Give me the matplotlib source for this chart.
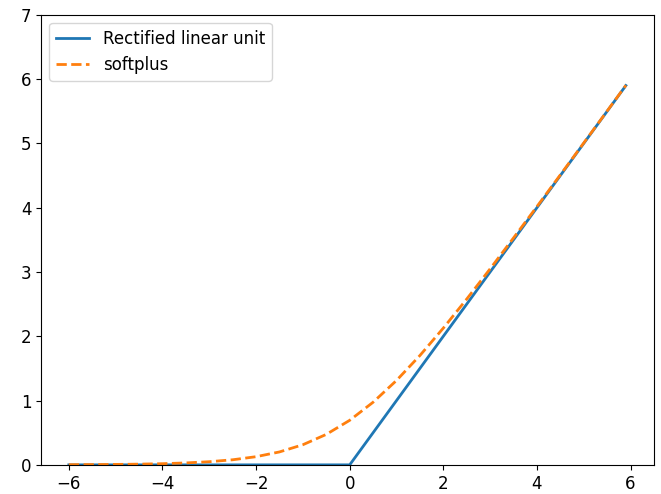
import matplotlib
matplotlib.use("Agg")
import matplotlib.pyplot as plt

relu_x = [-6.0, 0.0, 5.9]
relu_y = [0.0, 0.0, 5.9]

softplus_x = [-6.0, -5.5, -5.0, -4.5, -4.0, -3.5, -3.0, -2.5, -2.0, -1.5, -1.0, -0.5,
              0.0, 0.5, 1.0, 1.5, 2.0, 2.5, 3.0, 3.5, 4.0, 4.5, 5.0, 5.5, 5.9]
softplus_y = [0.0025, 0.0041, 0.0067, 0.011, 0.018, 0.030, 0.049, 0.079, 0.127, 0.201,
              0.313, 0.474, 0.693, 0.974, 1.313, 1.701, 2.127, 2.579, 3.049, 3.530,
              4.018, 4.511, 5.007, 5.504, 5.903]

plt.rcParams['font.size'] = 12
fig = plt.figure(figsize=(6.61, 4.94), dpi=100)
ax = fig.add_axes([0.062, 0.059, 0.927, 0.911])
ax.plot(relu_x, relu_y, color='#1f77b4', label='Rectified linear unit', lw=2)
ax.plot(softplus_x, softplus_y, color='#ff7f0e', ls='--', label='softplus', lw=2)
ax.set_ylim(0, 7)
ax.set_xticks([-6, -4, -2, 0, 2, 4, 6])
ax.legend(loc='upper left')
fig.savefig('out.png', dpi=100)
